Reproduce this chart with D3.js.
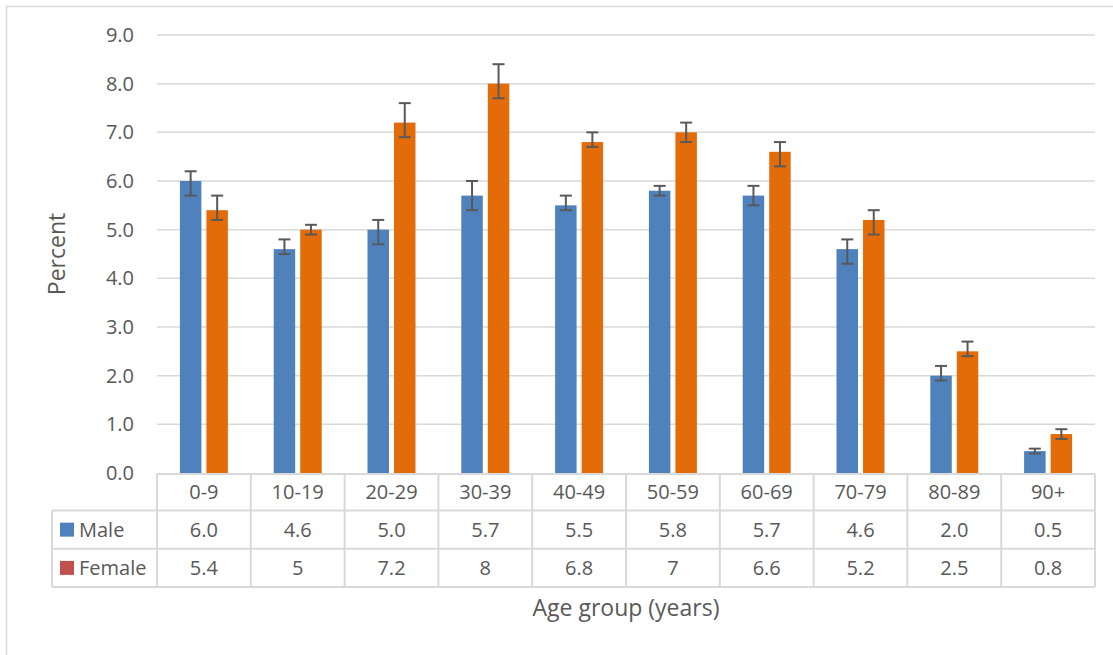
<!DOCTYPE html>
<html>
<head>
<meta charset="utf-8">
<script src="https://cdn.jsdelivr.net/npm/d3@7"></script>
<style>
html,body{margin:0;padding:0;background:#fff;}
svg{display:block;}
text{font-family:"Open Sans",sans-serif;fill:#595959;}
</style>
</head>
<body>
<svg id="chart" width="1113" height="655"></svg>
<script>
const categories = ["0-9","10-19","20-29","30-39","40-49","50-59","60-69","70-79","80-89","90+"];
const maleValues   = [6.0, 4.6, 5.0, 5.7, 5.5, 5.8, 5.7, 4.6, 2.0, 0.45];
const femaleValues = [5.4, 5.0, 7.2, 8.0, 6.8, 7.0, 6.6, 5.2, 2.5, 0.8];
const maleLow   = [5.7, 4.5, 4.7, 5.4, 5.4, 5.7, 5.5, 4.3, 1.9, 0.4];
const maleHigh  = [6.2, 4.8, 5.2, 6.0, 5.7, 5.9, 5.9, 4.8, 2.2, 0.5];
const femaleLow = [5.2, 4.9, 6.9, 7.7, 6.7, 6.8, 6.3, 4.9, 2.4, 0.7];
const femaleHigh= [5.7, 5.1, 7.6, 8.4, 7.0, 7.2, 6.8, 5.4, 2.7, 0.9];
const maleLabels   = ["6.0","4.6","5.0","5.7","5.5","5.8","5.7","4.6","2.0","0.5"];
const femaleLabels = ["5.4","5","7.2","8","6.8","7","6.6","5.2","2.5","0.8"];
const yTicks = [0,1,2,3,4,5,6,7,8,9];
const seriesNames = ["Male","Female"];
const barColors = ["#4F81BD","#E36C09"];
const legendColors = ["#4F81BD","#C0504D"];

(function(){
const svg = d3.select("#chart");
const pLeft = 157, pRight = 1095, pTop = 35, pBottom = 473;
const tableTop = 474, rowH = [36.5, 38.3, 38.2];

const x = d3.scaleBand().domain(categories).range([pLeft, pRight]).padding(0);
const y = d3.scaleLinear().domain([0, 9]).range([pBottom, pTop]);
const xs = d3.scaleBand().domain(seriesNames).range([0, x.bandwidth()]).paddingInner(0.19).paddingOuter(0.864);

// outer border (top and left visible)
svg.append("path").attr("d","M6.5,655 V6.5 H1113").attr("fill","none").attr("stroke","#d9d9d9").attr("stroke-width",1.5);

// gridlines
svg.append("g").selectAll("line").data(yTicks.filter(d=>d>0)).join("line")
  .attr("x1", pLeft).attr("x2", pRight).attr("y1", d=>y(d)).attr("y2", d=>y(d))
  .attr("stroke","#d9d9d9").attr("stroke-width",1.5);

// y axis labels
svg.append("g").selectAll("text").data(yTicks).join("text")
  .attr("x", 134).attr("y", d=>y(d)).attr("dy","0.35em").attr("text-anchor","end")
  .style("font-size","20px").text(d=>d.toFixed(1));

// bars
const series = [
  {name:"Male", vals:maleValues, lo:maleLow, hi:maleHigh, color:barColors[0]},
  {name:"Female", vals:femaleValues, lo:femaleLow, hi:femaleHigh, color:barColors[1]}
];
series.forEach(s=>{
  const g = svg.append("g");
  g.selectAll("rect").data(categories).join("rect")
    .attr("x", c=>x(c)+xs(s.name)).attr("width", xs.bandwidth())
    .attr("y", (c,i)=>y(s.vals[i])).attr("height",(c,i)=>y(0)-y(s.vals[i]))
    .attr("fill", s.color);
});
// error bars
series.forEach(s=>{
  const g = svg.append("g").attr("stroke","#595959").attr("stroke-width",2);
  categories.forEach((c,i)=>{
    const cx = x(c)+xs(s.name)+xs.bandwidth()/2;
    g.append("line").attr("x1",cx).attr("x2",cx).attr("y1",y(s.lo[i])).attr("y2",y(s.hi[i]));
    g.append("line").attr("x1",cx-6).attr("x2",cx+6).attr("y1",y(s.lo[i])).attr("y2",y(s.lo[i]));
    g.append("line").attr("x1",cx-6).attr("x2",cx+6).attr("y1",y(s.hi[i])).attr("y2",y(s.hi[i]));
  });
});

// data table
const tb = svg.append("g").attr("stroke","#d9d9d9").attr("stroke-width",2).attr("fill","none");
const r0 = tableTop, r1 = r0+rowH[0], r2 = r1+rowH[1], r3 = r2+rowH[2];
const tableLeft = 52;
tb.append("line").attr("x1",pLeft).attr("x2",pRight).attr("y1",r0).attr("y2",r0);
[r1,r2,r3].forEach(r=>tb.append("line").attr("x1",tableLeft).attr("x2",pRight).attr("y1",r).attr("y2",r));
tb.append("line").attr("x1",tableLeft).attr("x2",tableLeft).attr("y1",r1).attr("y2",r3);
categories.concat([null]).forEach((c,i)=>{
  const xx = c===null ? pRight : x(c);
  tb.append("line").attr("x1",xx).attr("x2",xx).attr("y1",r0).attr("y2",r3);
});

const tt = svg.append("g").style("font-size","20px");
tt.selectAll(".cat").data(categories).join("text").attr("class","cat")
  .attr("x", c=>x(c)+x.bandwidth()/2).attr("y",(r0+r1)/2).attr("dy","0.35em").attr("text-anchor","middle").text(c=>c);
tt.selectAll(".m").data(maleLabels).join("text").attr("class","m")
  .attr("x", (d,i)=>x(categories[i])+x.bandwidth()/2).attr("y",(r1+r2)/2).attr("dy","0.35em").attr("text-anchor","middle").text(d=>d);
tt.selectAll(".f").data(femaleLabels).join("text").attr("class","f")
  .attr("x", (d,i)=>x(categories[i])+x.bandwidth()/2).attr("y",(r2+r3)/2).attr("dy","0.35em").attr("text-anchor","middle").text(d=>d);

// legend keys in table
seriesNames.forEach((n,i)=>{
  const cy = i===0 ? (r1+r2)/2 : (r2+r3)/2;
  svg.append("rect").attr("x",60).attr("y",cy-7).attr("width",14).attr("height",14).attr("fill",legendColors[i]);
  svg.append("text").attr("x",79).attr("y",cy).attr("dy","0.35em").style("font-size","20px").text(n);
});

// axis titles
svg.append("text").attr("x",(pLeft+pRight)/2).attr("y",608).attr("dy","0.35em").attr("text-anchor","middle")
  .style("font-size","23px").text("Age group (years)");
svg.append("text").attr("transform","translate(57,254) rotate(-90)").attr("dy","0.35em").attr("text-anchor","middle")
  .style("font-size","23px").text("Percent");
})();
</script>
</body>
</html>
